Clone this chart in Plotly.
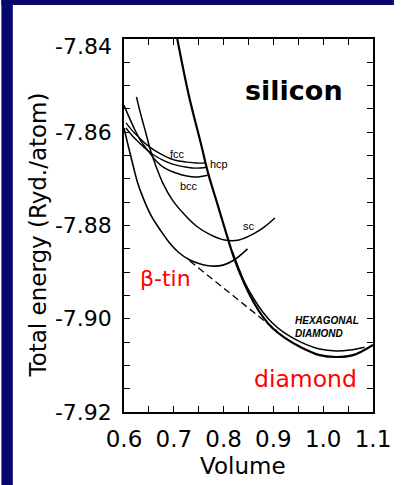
import plotly.graph_objects as go

# ---- data (Volume, Total energy Ryd/atom) ----
diamond_v = [0.707, 0.730, 0.755, 0.770, 0.787, 0.802, 0.821, 0.841, 0.860, 0.879, 0.898, 0.923, 0.955, 0.993, 1.026, 1.060, 1.100]
diamond_e = [-7.8400, -7.8520, -7.8627, -7.8692, -7.8752, -7.8805, -7.8870, -7.8923, -7.8964, -7.8996, -7.9020, -7.9041, -7.9061, -7.9078, -7.9082, -7.9078, -7.9056]

hexdia_v = [0.818, 0.841, 0.860, 0.879, 0.898, 0.923, 0.955, 0.993, 1.026, 1.054, 1.083]
hexdia_e = [-7.8857, -7.8919, -7.8956, -7.8986, -7.9009, -7.9031, -7.9050, -7.9065, -7.9069, -7.9067, -7.9061]

btin_v = [0.600, 0.608, 0.617, 0.627, 0.640, 0.655, 0.673, 0.692, 0.711, 0.732, 0.755, 0.774, 0.799, 0.821, 0.848]
btin_e = [-7.8591, -7.8627, -7.8666, -7.8707, -7.8745, -7.8780, -7.8810, -7.8838, -7.8859, -7.8874, -7.8883, -7.8887, -7.8885, -7.8874, -7.8850]

tangent_v = [0.732, 0.907]
tangent_e = [-7.8876, -7.9026]

sc_v = [0.625, 0.634, 0.644, 0.653, 0.665, 0.678, 0.697, 0.720, 0.745, 0.774, 0.802, 0.831, 0.860, 0.882, 0.903]
sc_e = [-7.8524, -7.8563, -7.8602, -7.8638, -7.8675, -7.8709, -7.8745, -7.8775, -7.8801, -7.8820, -7.8831, -7.8831, -7.8818, -7.8803, -7.8784]

fcc_v = [0.604, 0.617, 0.631, 0.646, 0.663, 0.682, 0.703, 0.726, 0.745, 0.764]
fcc_e = [-7.8580, -7.8597, -7.8612, -7.8627, -7.8640, -7.8651, -7.8660, -7.8664, -7.8666, -7.8666]

hcp_v = [0.604, 0.617, 0.631, 0.646, 0.663, 0.682, 0.703, 0.726, 0.745, 0.766]
hcp_e = [-7.8591, -7.8608, -7.8623, -7.8638, -7.8651, -7.8662, -7.8670, -7.8675, -7.8677, -7.8675]

bcc_v = [0.600, 0.610, 0.621, 0.634, 0.650, 0.665, 0.682, 0.703, 0.726, 0.745, 0.768]
bcc_e = [-7.8542, -7.8567, -7.8593, -7.8619, -7.8642, -7.8662, -7.8677, -7.8687, -7.8694, -7.8696, -7.8692]

x_tickvals = [0.6, 0.65, 0.7, 0.75, 0.8, 0.85, 0.9, 0.95, 1.0, 1.05, 1.1]
x_ticktext = ["0.6", "", "0.7", "", "0.8", "", "0.9", "", "1.0", "", "1.1"]
y_tickvals = [-7.92, -7.915, -7.91, -7.905, -7.90, -7.895, -7.89, -7.885, -7.88,
              -7.875, -7.87, -7.865, -7.86, -7.855, -7.85, -7.845, -7.84]
# the top label (-7.84) sits just below its tick in the reference; drawn as a note
y_ticktext = ["-7.92", "", "", "", "-7.90", "", "", "", "-7.88",
              "", "", "", "-7.86", "", "", "", ""]
y_top_label = "-7.84"

# ---- layout geometry (pixels) ----
W, H = 403, 485
L, R, T, B = 124, 386, 39, 412

def px(x):
    return (x - L) / (R - L)

def py(y):
    return (B - y) / (B - T)

fig = go.Figure()

def curve(v, e, width=1.5, dash="solid"):
    fig.add_trace(go.Scatter(x=v, y=e, mode="lines",
                             line=dict(color="black", width=width, dash=dash,
                                       shape="spline", smoothing=1.0),
                             hoverinfo="skip", showlegend=False))

curve(fcc_v, fcc_e, 1.4)
curve(hcp_v, hcp_e, 1.4)
curve(bcc_v, bcc_e, 1.5)
curve(sc_v, sc_e, 1.5)
curve(btin_v, btin_e, 1.6)
curve(tangent_v, tangent_e, 1.3, "7px,4px")
curve(hexdia_v, hexdia_e, 1.5)
curve(diamond_v, diamond_e, 2.2)

axis_common = dict(showgrid=False, zeroline=False, showline=True, linecolor="black",
                   linewidth=1.5, mirror="allticks", ticks="inside", ticklen=6,
                   tickwidth=1.3, tickcolor="black", ticklabeloverflow="allow")

fig.update_xaxes(range=[0.6, 1.1], tickmode="array", tickvals=x_tickvals,
                 ticktext=x_ticktext, ticklabelstandoff=6,
                 tickfont=dict(family="DejaVu Sans", size=23, color="black"),
                 **axis_common)
fig.update_yaxes(range=[-7.92, -7.84], tickmode="array", tickvals=y_tickvals,
                 ticktext=y_ticktext, ticklabelstandoff=6,
                 tickfont=dict(family="DejaVu Sans", size=22, color="black"),
                 **axis_common)

navy = "#07076c"
shapes = [
    dict(type="rect", xref="paper", yref="paper", x0=px(-5), x1=px(W + 5), y0=py(5), y1=py(-5),
         fillcolor=navy, line=dict(width=0), layer="below"),
    dict(type="rect", xref="paper", yref="paper", x0=px(-5), x1=px(7), y0=py(H + 5), y1=py(-5),
         fillcolor=navy, line=dict(width=0), layer="below"),
]

small = dict(family="Liberation Sans", size=11, color="black")
ann = [
    dict(text=y_top_label, x=px(113), y=py(46), xanchor="right",
         font=dict(family="DejaVu Sans", size=22, color="black")),
    dict(text="fcc", x=px(180), y=py(154), font=small),
    dict(text="hcp", x=px(224), y=py(164), font=small),
    dict(text="bcc", x=px(192), y=py(186), font=small),
    dict(text="sc", x=px(256), y=py(226), font=small),
    dict(text="<i><b>HEXAGONAL</b></i><br><i><b>DIAMOND</b></i>", x=px(302), y=py(327),
         xanchor="left", align="left",
         font=dict(family="Liberation Sans", size=10, color="black")),
    dict(text="<b>silicon</b>", x=px(303), y=py(90),
         font=dict(family="DejaVu Sans", size=27, color="black")),
    dict(text="β-tin", x=px(168), y=py(278),
         font=dict(family="DejaVu Sans", size=22, color="#ff0000")),
    dict(text="diamond", x=px(315), y=py(379),
         font=dict(family="DejaVu Sans", size=23.5, color="#ff0000")),
    dict(text="Volume", x=px(249), y=py(466),
         font=dict(family="DejaVu Sans", size=23, color="black")),
    dict(text="Total energy (Ryd./atom)", x=px(33), y=py(235), textangle=-90,
         font=dict(family="DejaVu Sans", size=23, color="black")),
]
for a in ann:
    a.update(xref="paper", yref="paper", showarrow=False)
    a.setdefault("xanchor", "center")
    a.setdefault("yanchor", "middle")

fig.update_layout(width=W, height=H, margin=dict(l=L, r=W - R, t=T, b=H - B),
                  paper_bgcolor="white", plot_bgcolor="white",
                  shapes=shapes, annotations=ann, showlegend=False)

fig.write_html("out.html", config={"displayModeBar": False},
               post_script="document.body.style.margin='0';document.body.style.overflow='hidden';")
